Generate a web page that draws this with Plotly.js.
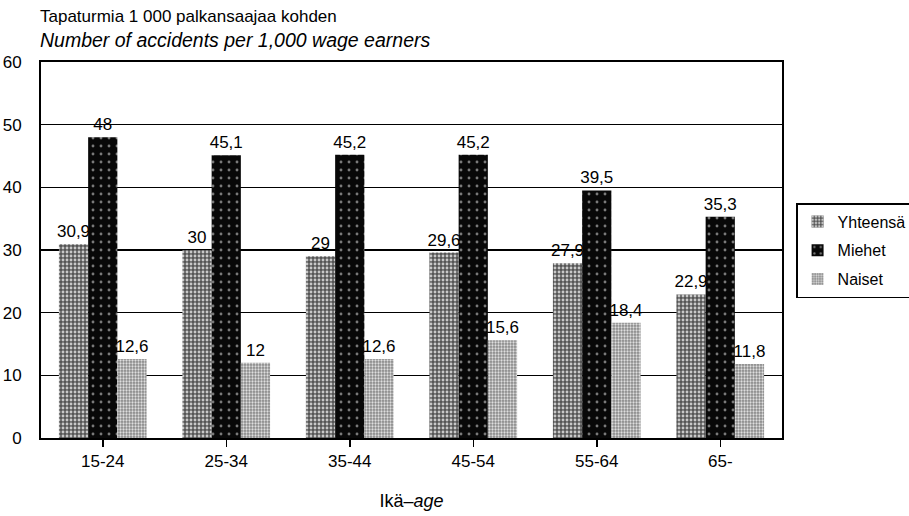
<!DOCTYPE html>
<html>
<head>
<meta charset="utf-8">
<script src="https://cdn.plot.ly/plotly-3.0.1.min.js"></script>
<style>html,body{margin:0;padding:0;background:#fff;}#chart{width:909px;height:516px;}</style>
</head>
<body>
<div id="chart"></div>
<script>
var categories = ['15-24', '25-34', '35-44', '45-54', '55-64', '65-'];
var yhteensa = [30.9, 30, 29, 29.6, 27.9, 22.9];
var miehet = [48, 45.1, 45.2, 45.2, 39.5, 35.3];
var naiset = [12.6, 12, 12.6, 15.6, 18.4, 11.8];
var seriesNames = ['Yhteensä', 'Miehet', 'Naiset'];
var yTicks = [0, 10, 20, 30, 40, 50, 60];

function fmt(v) { return String(v).replace('.', ','); }

var FONT = 'Liberation Sans Narrow, Arial Narrow, Liberation Sans, Arial, sans-serif';

var styles = [
  {bg: '#555555', fg: '#c8c8c8', size: 4, solidity: 0.4},
  {bg: '#080808', fg: '#7a7a7a', size: 8, solidity: 0.1},
  {bg: '#888888', fg: '#dedede', size: 3, solidity: 0.45}
];

var data = [yhteensa, miehet, naiset].map(function (vals, i) {
  return {
    type: 'bar',
    name: seriesNames[i],
    legendgroup: 'g' + i,
    x: categories,
    y: vals,
    text: vals.map(fmt),
    textposition: 'outside',
    constraintext: 'none',
    cliponaxis: false,
    textfont: {family: FONT, size: 17, color: '#000'},
    marker: {
      color: styles[i].bg,
      line: {width: 0},
      pattern: {shape: '.', bgcolor: styles[i].bg, fgcolor: styles[i].fg, size: styles[i].size, solidity: styles[i].solidity}
    },
    hoverinfo: 'x+y'
  };
});

var layout = {
  width: 909,
  height: 516,
  margin: {l: 41, r: 127, t: 62, b: 78, autoexpand: false},
  paper_bgcolor: '#fff',
  plot_bgcolor: '#fff',
  font: {family: FONT, size: 17, color: '#000'},
  barmode: 'group',
  bargap: 0.29,
  bargroupgap: 0,
  showlegend: true,
  legend: {
    x: 1.019, xanchor: 'left', y: 0.625, yanchor: 'top',
    bordercolor: '#000', borderwidth: 1.5,
    font: {family: FONT, size: 16, color: '#000'},
    tracegroupgap: 5, itemwidth: 30
  },
  xaxis: {
    type: 'category',
    showline: true, linecolor: '#000', linewidth: 2, mirror: true,
    ticks: 'outside', ticklen: 7, tickcolor: '#000', tickwidth: 1.5,
    showgrid: false,
    tickfont: {family: FONT, size: 17, color: '#000'},
    title: {text: 'Ikä–<i>age</i>', font: {family: FONT, size: 18, color: '#000'}, standoff: 24}
  },
  yaxis: {
    range: [0, 60],
    tickvals: yTicks,
    ticktext: yTicks.map(String),
    showline: true, linecolor: '#000', linewidth: 2, mirror: true,
    showgrid: true, gridcolor: '#000', gridwidth: 1.5,
    ticks: '', ticklabelstandoff: 14,
    tickfont: {family: FONT, size: 17, color: '#000'},
    zeroline: false
  },
  annotations: [
    {text: 'Tapaturmia 1 000 palkansaajaa kohden', xref: 'paper', yref: 'paper', x: 0, y: 1.0, yshift: 34,
     xanchor: 'left', yanchor: 'bottom', showarrow: false, xshift: -3, font: {family: FONT, size: 17, color: '#000'}},
    {text: '<i>Number of accidents per 1,000 wage earners</i>', xref: 'paper', yref: 'paper', x: 0, y: 1.0, yshift: 9,
     xanchor: 'left', yanchor: 'bottom', showarrow: false, xshift: -3, font: {family: FONT, size: 19.5, color: '#000'}}
  ]
};

Plotly.newPlot('chart', data, layout, {displayModeBar: false, staticPlot: true});
</script>
</body>
</html>
